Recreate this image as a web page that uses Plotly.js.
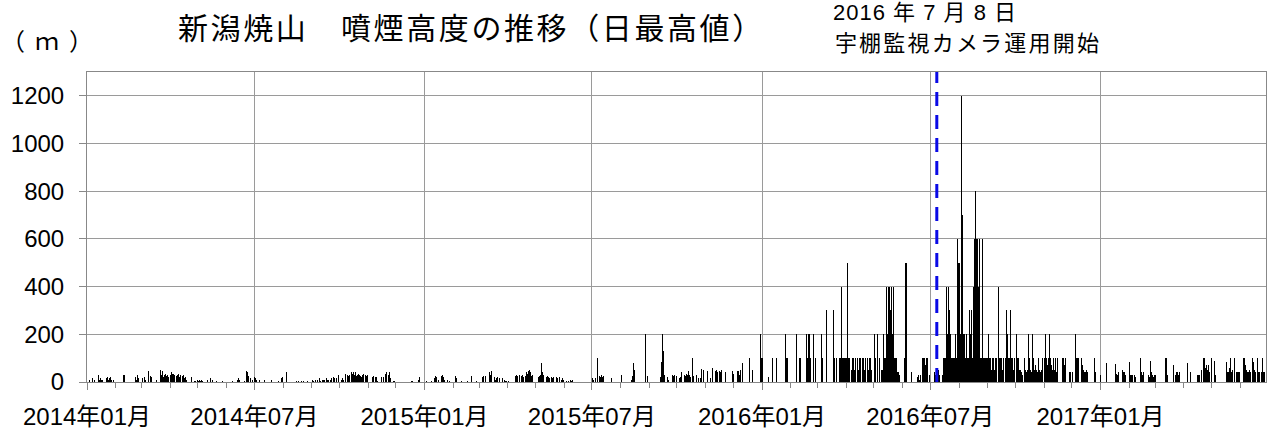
<!DOCTYPE html>
<html><head><meta charset="utf-8">
<script src="https://cdn.plot.ly/plotly-3.0.1.min.js"></script>
<style>
html,body{margin:0;padding:0;background:#fff}
#chart{width:1275px;height:430px}
#chart .bars path{shape-rendering:crispEdges !important}
#chart .gtitle{letter-spacing:2.6px}
#chart .annotation[data-index="0"] text{letter-spacing:10px}
#chart .annotation[data-index="1"] text{letter-spacing:1px}
#chart .annotation[data-index="2"] text{letter-spacing:2.2px}
</style>
</head><body><div id="chart"></div>
<script>
// Daily maximum plume height (m), one array per month, index = day-1
const d2014_01 = [0,0,0,10,0,0,15,0,10,0, 0,0,30,0,10,15,10,10,0,0, 0,15,20,10,15,20,0,10,0,10, 0];
const d2014_02 = [0,0,0,0,0,0,0,0,0,30, 0,0,0,0,0,0,0,0,0,0, 0,20,10,0,30,15,0,0];
const d2014_03 = [0,15,0,20,10,0,0,45,0,0, 25,20,0,0,0,0,10,0,0,0, 0,50,30,45,20,30,35,25,30,20, 0];
const d2014_04 = [30,40,25,35,20,30,0,25,30,35, 20,30,0,25,30,15,20,0,10,0, 0,0,0,20,0,0,5,5,0,0];
const d2014_05 = [10,5,10,5,10,5,0,0,0,0, 10,0,0,0,15,0,10,0,0,0, 5,0,0,0,0,0,5,0,0,0, 0];
const d2014_06 = [0,0,0,0,0,0,5,0,0,0, 0,0,10,15,10,0,0,0,0,5, 0,30,45,40,25,0,15,0,10,0];
const d2014_07 = [20,15,10,0,0,0,10,0,0,0, 0,10,0,0,0,0,0,0,10,0, 0,0,0,0,0,0,5,0,0,15, 20];
const d2014_08 = [0,0,0,0,40,0,0,0,0,0, 0,0,0,0,0,5,0,5,0,0, 5,0,5,0,0,0,5,0,0,0, 0];
const d2014_09 = [0,10,5,0,10,0,10,0,15,5, 0,0,10,10,10,0,15,10,10,0, 10,15,0,0,20,15,0,15,0,30];
const d2014_10 = [0,0,10,15,10,0,0,35,0,30, 25,30,0,40,35,40,30,40,25,30, 20,35,30,25,20,30,35,0,30,25, 30];
const d2014_11 = [0,0,0,0,0,20,25,0,20,20, 5,0,0,0,15,20,0,20,0,35, 40,0,30,40,15,0,0,0,5,0];
const d2014_12 = [0,0,0,0,0,0,0,0,0,0, 0,0,0,0,0,0,0,5,5,0, 0,0,0,0,0,10,20,0,0,0, 0];
const d2015_01 = [0,0,5,0,0,0,0,0,5,0, 0,15,25,20,0,10,0,0,25,30, 0,20,10,0,0,10,0,5,0,0, 0];
const d2015_02 = [0,0,0,25,15,0,0,0,0,5, 0,0,0,0,0,0,5,0,0,0, 25,0,0,0,0,5,0,0];
const d2015_03 = [0,0,0,0,20,25,0,25,0,0, 0,40,30,45,0,0,0,20,10,15, 20,0,15,0,0,15,0,10,0,5, 5];
const d2015_04 = [0,5,0,0,0,0,0,0,25,30, 25,0,0,30,0,25,30,20,0,25, 40,35,45,50,30,40,25,30,0,0];
const d2015_05 = [0,0,0,20,25,30,55,80,40,30, 0,0,20,25,20,15,0,20,15,0, 20,0,0,20,15,0,20,0,10,15, 10];
const d2015_06 = [0,0,0,5,0,5,0,10,5,10, 0,0,0,0,0,0,0,0,0,0, 0,0,0,0,0,0,0,0,0,0];
const d2015_07 = [0,15,10,0,15,0,100,0,25,20, 30,0,20,25,0,0,0,0,0,0, 0,15,0,0,0,0,0,0,0,0, 0];
const d2015_08 = [0,30,0,0,0,0,0,0,0,0, 0,0,10,25,80,50,0,0,0,0, 0,0,0,0,0,0,0,200,0,25, 0];
const d2015_09 = [0,0,0,0,0,0,0,0,0,0, 0,0,20,85,200,130,30,0,0,0, 20,10,0,0,0,30,25,30,0,25];
const d2015_10 = [0,0,0,15,20,40,0,0,30,25, 35,30,0,45,30,20,0,100,25,0, 0,30,0,15,0,15,50,55,0,50, 0];
const d2015_11 = [0,0,45,0,0,15,0,60,0,0, 0,45,50,40,0,45,40,50,0,0, 0,40,0,0,0,0,0,0,0,45];
const d2015_12 = [35,0,0,0,40,45,0,30,50,0, 80,0,0,0,0,0,0,100,0,0, 0,50,0,0,0,0,0,0,0,200, 100];
const d2016_01 = [100,100,0,0,0,0,0,20,0,0, 0,100,0,0,0,0,100,0,0,0, 0,0,0,0,0,200,0,100,100,0, 0];
const d2016_02 = [0,0,0,0,0,0,200,0,0,100, 0,100,0,0,0,0,0,200,100,200, 200,100,0,0,0,200,0,100,0];
const d2016_03 = [0,0,0,0,200,100,0,0,0,0, 300,0,0,0,0,0,0,300,100,0, 0,100,0,0,100,100,400,100,100,100, 100];
const d2016_04 = [100,500,100,100,100,0,50,100,100,50, 100,0,100,50,100,100,50,0,100,100, 50,100,0,100,50,100,100,50,0,0];
const d2016_05 = [0,200,100,0,200,0,100,0,50,50, 200,100,0,100,400,200,400,400,300,400, 200,400,100,100,100,40,40,40,30,0, 0];
const d2016_06 = [0,0,100,500,500,0,0,0,0,0, 40,0,0,0,0,0,20,30,10,30, 0,100,50,100,100,70,100,100,0,30];
const d2016_07 = [0,0,0,0,0,40,30,40,40,50, 30,0,0,30,100,100,100,200,400,200, 400,300,200,100,100,100,100,200,100,600, 500];
const d2016_08 = [500,500,200,1200,700,200,200,100,200,100, 100,300,200,300,300,100,400,600,800,600, 600,400,600,100,100,600,100,50,100,100, 100];
const d2016_09 = [100,200,100,100,50,100,100,50,100,100, 100,0,400,100,100,100,50,100,0,100, 300,200,100,50,100,300,100,100,50,100];
const d2016_10 = [0,200,100,100,50,40,50,40,30,0, 100,50,40,50,200,100,50,40,0,200, 100,50,70,50,40,100,50,40,50,100, 0];
const d2016_11 = [50,100,200,100,70,100,200,100,70,50, 100,50,100,40,100,40,0,0,0,0, 100,100,70,100,0,0,0,40,40,40];
const d2016_12 = [0,40,0,0,200,100,100,100,0,0, 100,100,70,50,40,40,50,40,0,0, 0,0,0,0,100,0,40,0,0,0, 0];
const d2017_01 = [30,0,0,0,0,0,80,40,0,0, 0,0,0,0,0,0,75,35,30,40, 0,0,0,0,50,40,40,30,0,0, 0];
const d2017_02 = [85,0,30,20,30,0,30,20,0,0, 0,0,100,40,30,40,0,0,0,0, 0,30,20,90,40,30,20,30];
const d2017_03 = [30,0,0,0,0,0,0,0,0,0, 0,100,100,30,0,0,0,0,0,0, 70,0,30,40,40,30,40,0,0,0, 0];
const d2017_04 = [0,0,0,0,80,0,0,40,0,0, 0,0,0,0,0,30,30,30,0,50, 0,100,90,100,60,70,50,70,40,0];
const d2017_05 = [100,0,0,90,30,0,0,0,0,0, 0,0,0,0,0,0,85,40,40,40, 60,100,40,50,0,100,0,40,40,40, 40];
const d2017_06 = [0,0,0,0,100,100,70,50,40,40, 50,40,0,100,85,50,50,40,0,100, 40,40,0,40,100,40,40,0,0];

const monthList = [
  [2014,1,d2014_01],[2014,2,d2014_02],[2014,3,d2014_03],[2014,4,d2014_04],[2014,5,d2014_05],[2014,6,d2014_06],
  [2014,7,d2014_07],[2014,8,d2014_08],[2014,9,d2014_09],[2014,10,d2014_10],[2014,11,d2014_11],[2014,12,d2014_12],
  [2015,1,d2015_01],[2015,2,d2015_02],[2015,3,d2015_03],[2015,4,d2015_04],[2015,5,d2015_05],[2015,6,d2015_06],
  [2015,7,d2015_07],[2015,8,d2015_08],[2015,9,d2015_09],[2015,10,d2015_10],[2015,11,d2015_11],[2015,12,d2015_12],
  [2016,1,d2016_01],[2016,2,d2016_02],[2016,3,d2016_03],[2016,4,d2016_04],[2016,5,d2016_05],[2016,6,d2016_06],
  [2016,7,d2016_07],[2016,8,d2016_08],[2016,9,d2016_09],[2016,10,d2016_10],[2016,11,d2016_11],[2016,12,d2016_12],
  [2017,1,d2017_01],[2017,2,d2017_02],[2017,3,d2017_03],[2017,4,d2017_04],[2017,5,d2017_05],[2017,6,d2017_06]
];

const yTicks = [0,200,400,600,800,1000,1200];
const titleText = '新潟焼山　噴煙高度の推移（日最高値）';
const unitText = '（ｍ）';
const noteDate = '2016 年 7 月 8 日';
const noteText = '宇棚監視カメラ運用開始';
const markDate = '2016-07-08';
const xStart = '2014-01-01';
const xEnd = '2017-06-29';

const pad = n => String(n).padStart(2,'0');
const xs = [], ys = [];
monthList.forEach(([yr, mo, arr]) => {
  arr.forEach((v, i) => {
    if (v > 0) { xs.push(yr + '-' + pad(mo) + '-' + pad(i + 1)); ys.push(v); }
  });
});

const fontJP = '"Noto Sans CJK JP", sans-serif';
const fontTick = '"Liberation Sans", Arial, "Noto Sans CJK JP", sans-serif';

const trace = {
  type: 'bar', x: xs, y: ys,
  width: 86400000 * 1.1,
  marker: {color: '#000', line: {width: 0}},
  hoverinfo: 'skip'
};

const layout = {
  width: 1275, height: 430,
  margin: {l: 87, r: 9, t: 72, b: 48},
  paper_bgcolor: '#fff', plot_bgcolor: '#fff',
  showlegend: false,
  title: {text: titleText, xref: 'container', yref: 'container', x: 178/1275, xanchor: 'left',
          y: 1 - 28/430, yanchor: 'middle', font: {family: fontJP, size: 30, color: '#000'}},
  xaxis: {
    type: 'date', range: [xStart, xEnd], tick0: xStart, dtick: 'M6', tickformat: '%Y年%m月',
    ticks: 'outside', ticklen: 7, tickcolor: '#888', ticklabelstandoff: 6,
    showgrid: true, gridcolor: '#9a9a9a', gridwidth: 1,
    showline: true, mirror: true, linecolor: '#888', linewidth: 1, zeroline: false,
    tickfont: {family: fontTick, size: 24, color: '#000'},
    minor: {dtick: 'M1', tick0: xStart, ticks: 'outside', ticklen: 5, tickcolor: '#888', showgrid: false},
    fixedrange: true
  },
  yaxis: {
    range: [0, 1300], tickvals: yTicks, ticktext: yTicks.map(String),
    ticks: 'outside', ticklen: 7, tickcolor: '#888', ticklabelstandoff: 10,
    showgrid: true, gridcolor: '#9a9a9a', gridwidth: 1,
    showline: true, mirror: true, linecolor: '#888', linewidth: 1, zeroline: false,
    tickfont: {family: fontTick, size: 24, color: '#000'},
    fixedrange: true
  },
  shapes: [{type: 'line', xref: 'x', yref: 'paper', x0: markDate, x1: markDate, y0: 0, y1: 1,
            line: {color: 'rgb(10,10,230)', width: 3, dash: '14px,9px'}}],
  annotations: [
    {text: unitText, xref: 'paper', yref: 'paper', x: (14-87)/1179, y: (382-40)/310,
     xanchor: 'left', yanchor: 'middle', showarrow: false, font: {family: fontJP, size: 24, color: '#000'}},
    {text: noteDate, xref: 'paper', yref: 'paper', x: (838-87)/1179, y: (382-13)/310,
     xanchor: 'left', yanchor: 'middle', showarrow: false, font: {family: fontTick, size: 22, color: '#000'}},
    {text: noteText, xref: 'paper', yref: 'paper', x: (845-87)/1179, y: (382-41)/310,
     xanchor: 'left', yanchor: 'middle', showarrow: false, font: {family: fontJP, size: 22, color: '#000'}}
  ]
};

Plotly.newPlot('chart', [trace], layout, {staticPlot: true, displayModeBar: false});
</script>
</body></html>
